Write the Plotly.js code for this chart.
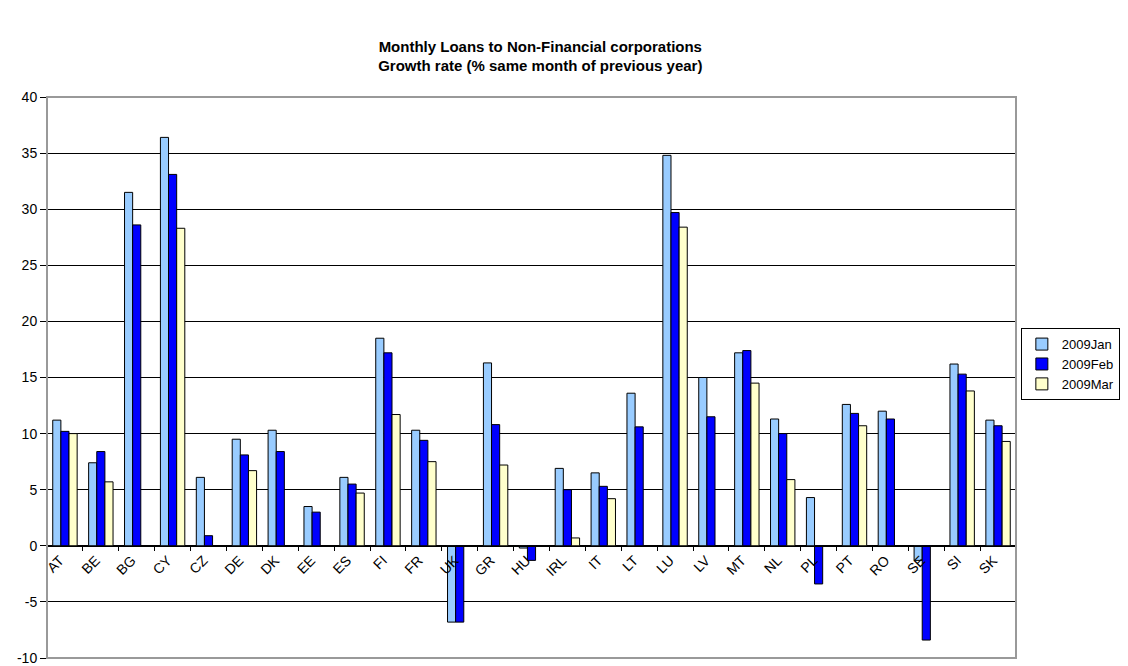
<!DOCTYPE html>
<html>
<head>
<meta charset="utf-8">
<script src="https://cdn.plot.ly/plotly-3.0.1.min.js"></script>
<style>html,body{margin:0;padding:0;background:#fff;}#chart{width:1128px;height:666px;}</style>
</head>
<body>
<div id="chart"></div>
<script>
var countries = ["AT","BE","BG","CY","CZ","DE","DK","EE","ES","FI","FR","UK","GR","HU","IRL","IT","LT","LU","LV","MT","NL","PL","PT","RO","SE","SI","SK"];
var jan2009 = [11.2,7.4,31.5,36.4,6.1,9.5,10.3,3.5,6.1,18.5,10.3,-6.8,16.3,-0.2,6.9,6.5,13.6,34.8,15.0,17.2,11.3,4.3,12.6,12.0,-1.3,16.2,11.2];
var feb2009 = [10.2,8.4,28.6,33.1,0.9,8.1,8.4,3.0,5.5,17.2,9.4,-6.8,10.8,-1.3,5.0,5.3,10.6,29.7,11.5,17.4,10.0,-3.4,11.8,11.3,-8.4,15.3,10.7];
var mar2009 = [10.0,5.7,null,28.3,null,6.7,null,null,4.7,11.7,7.5,null,7.2,null,0.7,4.2,null,28.4,null,14.5,5.9,null,10.7,null,null,13.8,9.3];
var seriesNames = ["2009Jan","2009Feb","2009Mar"];
var seriesColors = ["#99ccff","#0000ff","#ffffcc"];
var yTicks = [-10,-5,0,5,10,15,20,25,30,35,40];

var allSeries = [jan2009, feb2009, mar2009];
var traces = allSeries.map(function(vals, i){
  return {
    type: "bar",
    name: seriesNames[i],
    x: countries,
    y: vals,
    marker: {color: seriesColors[i], line: {color: "#000", width: 1}},
    hoverinfo: "x+y+name"
  };
});

var font = "Arial, 'Liberation Sans', sans-serif";
var layout = {
  width: 1128,
  height: 666,
  paper_bgcolor: "#fff",
  plot_bgcolor: "#fff",
  margin: {l: 47, r: 97, t: 97, b: 8, pad: 0},
  font: {family: font, size: 12, color: "#000"},
  title: {
    text: "<b>Monthly Loans to Non-Financial corporations<br>Growth rate (% same month of previous year)</b>",
    font: {family: font, size: 15, color: "#000"},
    x: 0.479, xref: "container", xanchor: "center",
    y: 0.922, yref: "container", yanchor: "top"
  },
  barmode: "group",
  bargap: 0.32,
  bargroupgap: 0,
  showlegend: true,
  legend: {
    x: 1.005, xanchor: "left", y: 0.588, yanchor: "top",
    bordercolor: "#000", borderwidth: 1,
    font: {family: font, size: 13, color: "#000"},
    tracegroupgap: 0, itemwidth: 30
  },
  xaxis: {
    type: "category",
    anchor: "free",
    position: 0.2,
    tickangle: -45,
    ticks: "outside",
    tickson: "boundaries",
    ticklen: 4,
    tickcolor: "#000",
    ticklabelshift: -5,
    showline: true,
    linecolor: "#000",
    linewidth: 1,
    showgrid: false,
    zeroline: false,
    tickfont: {family: font, size: 14, color: "#000"}
  },
  yaxis: {
    range: [-10, 40],
    tickvals: yTicks,
    ticktext: yTicks.map(String),
    showgrid: true,
    gridcolor: "#000",
    gridwidth: 1,
    zeroline: true,
    zerolinecolor: "#000",
    zerolinewidth: 1,
    showline: true,
    linecolor: "#000",
    linewidth: 1,
    ticks: "outside",
    ticklen: 6,
    tickcolor: "#000",
    tickfont: {family: font, size: 14, color: "#000"}
  },
  shapes: [{
    type: "rect", xref: "paper", yref: "paper",
    x0: 0, x1: 1, y0: 0, y1: 1,
    line: {color: "#999", width: 2},
    fillcolor: "rgba(0,0,0,0)",
    layer: "above"
  }]
};

Plotly.newPlot("chart", traces, layout, {displayModeBar: false, staticPlot: true});
</script>
</body>
</html>
